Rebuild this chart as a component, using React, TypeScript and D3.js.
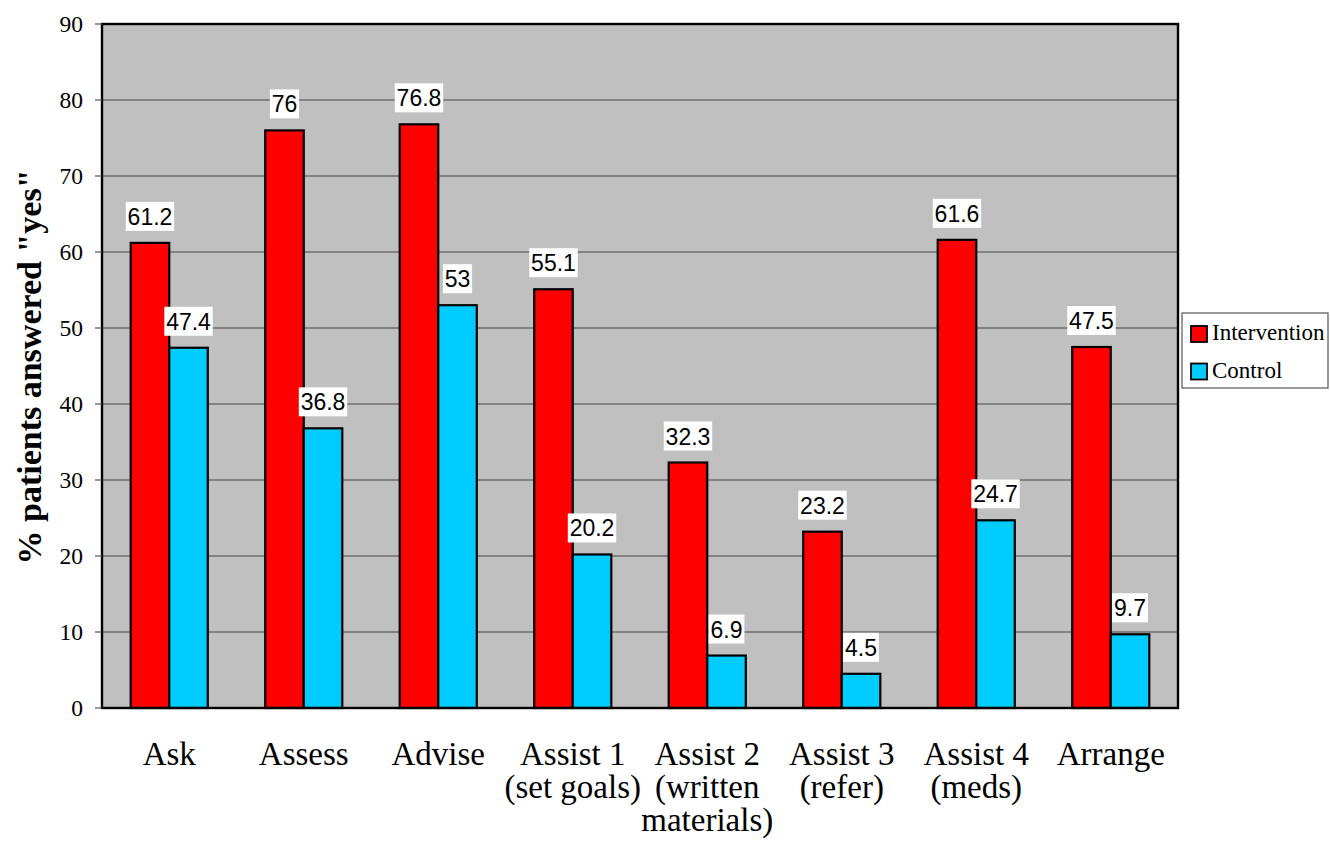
import React from "react";
import * as d3 from "d3";

const categories: string[][] = [
  ["Ask"],
  ["Assess"],
  ["Advise"],
  ["Assist 1", "(set goals)"],
  ["Assist 2", "(written", "materials)"],
  ["Assist 3", "(refer)"],
  ["Assist 4", "(meds)"],
  ["Arrange"],
];
const intervention = [61.2, 76, 76.8, 55.1, 32.3, 23.2, 61.6, 47.5];
const control = [47.4, 36.8, 53, 20.2, 6.9, 4.5, 24.7, 9.7];
const seriesNames = ["Intervention", "Control"];
const seriesColors = ["#ff0000", "#00ccff"];
const yTicks = [0, 10, 20, 30, 40, 50, 60, 70, 80, 90];

const W = 1330;
const H = 842;
const left = 102;
const right = 1178;
const top = 24;
const bottom = 708;

export default function App() {
  const x0 = d3
    .scaleBand<number>()
    .domain(categories.map((_, i) => i))
    .range([left, right])
    .paddingInner(0)
    .paddingOuter(0);
  const groupPad = 0.2135;
  const x1 = d3
    .scaleBand<number>()
    .domain([0, 1])
    .range([x0.bandwidth() * groupPad, x0.bandwidth() * (1 - groupPad)]);
  const y = d3.scaleLinear().domain([0, 90]).range([bottom, top]);
  const serif = "'Liberation Serif', 'Times New Roman', serif";
  const sans = "'Liberation Sans', Arial, sans-serif";
  const series = [intervention, control];

  return (
    <svg
      width={W}
      height={H}
      style={{ position: "absolute", left: 0, top: 0, background: "#fff" }}
    >
      <rect x={left} y={top} width={right - left} height={bottom - top} fill="#c0c0c0" />
      {yTicks
        .filter((t) => t > 0 && t < 90)
        .map((t) => (
          <line key={t} x1={left} x2={right} y1={y(t)} y2={y(t)} stroke="#6e6e6e" strokeWidth={1.3} />
        ))}
      {series.map((vals, s) =>
        vals.map((v, i) => (
          <rect
            key={`${s}-${i}`}
            x={(x0(i) as number) + (x1(s) as number)}
            y={y(v)}
            width={x1.bandwidth()}
            height={y(0) - y(v)}
            fill={seriesColors[s]}
            stroke="#000"
            strokeWidth={2.2}
          />
        ))
      )}
      <rect
        x={left}
        y={top}
        width={right - left}
        height={bottom - top}
        fill="none"
        stroke="#000"
        strokeWidth={2.4}
      />
      {yTicks.map((t) => (
        <g key={t}>
          <line x1={95} x2={left} y1={y(t)} y2={y(t)} stroke="#555" strokeWidth={1.2} />
          <text
            x={83}
            y={y(t)}
            dy="0.35em"
            textAnchor="end"
            fontFamily={serif}
            fontSize={23.5}
            fill="#000"
          >
            {t}
          </text>
        </g>
      ))}
      {series.map((vals, s) =>
        vals.map((v, i) => {
          const cx = (x0(i) as number) + (x1(s) as number) + x1.bandwidth() / 2;
          const label = String(v);
          const w = label.length * 12.6 - (label.includes(".") ? 6 : 0) + 4;
          const by = y(v) - 18;
          return (
            <g key={`l${s}-${i}`}>
              <rect x={cx - w / 2} y={by - 23} width={w} height={29} fill="#fff" />
              <text x={cx} y={by} textAnchor="middle" fontFamily={sans} fontSize={23} fill="#000">
                {label}
              </text>
            </g>
          );
        })
      )}
      {categories.map((lines, i) => {
        const cx = (x0(i) as number) + x0.bandwidth() / 2;
        return (
          <text key={i} textAnchor="middle" fontFamily={serif} fontSize={33} fill="#000">
            {lines.map((ln, k) => (
              <tspan key={k} x={cx} y={765 + k * 33}>
                {ln}
              </tspan>
            ))}
          </text>
        );
      })}
      <text
        transform={`translate(41, ${(top + bottom) / 2 + 1}) rotate(-90)`}
        textAnchor="middle"
        fontFamily={serif}
        fontWeight="bold"
        fontSize={34}
        fill="#000"
      >
        % patients answered "yes"
      </text>
      <rect x={1182} y={313} width={146} height={75} fill="#fff" stroke="#555" strokeWidth={1.2} />
      {seriesNames.map((n, s) => (
        <g key={n}>
          <rect
            x={1191}
            y={326 + s * 37.5}
            width={16}
            height={16}
            fill={seriesColors[s]}
            stroke="#000"
            strokeWidth={1.8}
          />
          <text x={1212} y={340 + s * 38} fontFamily={serif} fontSize={23} fill="#000">
            {n}
          </text>
        </g>
      ))}
    </svg>
  );
}
